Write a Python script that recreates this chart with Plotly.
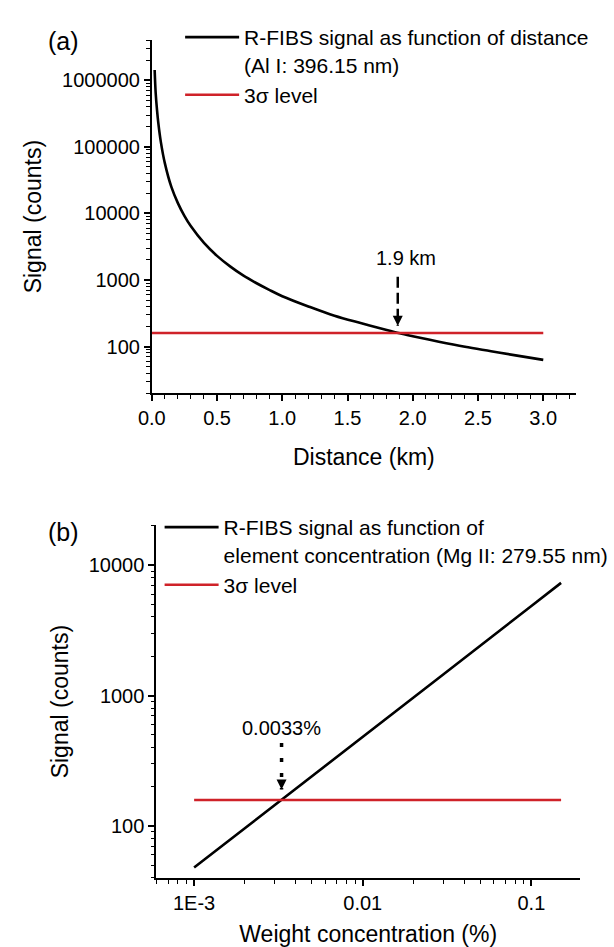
import math
import plotly.graph_objects as go

# ---- data ----
# (a) signal vs distance, Al I 396.15 nm
dist_km = [0.022, 0.03, 0.04, 0.05, 0.07, 0.1, 0.15, 0.2, 0.25, 0.3, 0.4, 0.5,
           0.6, 0.7, 0.8, 0.9, 1.0, 1.2, 1.4, 1.6, 1.8, 1.9, 2.0, 2.2, 2.4,
           2.6, 2.8, 3.0]
dist_signal = [1430000, 640000, 360000, 230000, 117000, 57000, 25000, 14300,
               9200, 6400, 3600, 2300, 1600, 1170, 900, 710, 570, 400, 290,
               225, 177, 158, 143, 118, 99, 85, 73, 63]
dist_sigma_x = [0.0, 3.0]
dist_sigma_y = [160, 160]
dist_cross = 1.885          # where the curve meets the 3 sigma level
dist_arrow_y = [1120, 205]

# (b) signal vs weight concentration, Mg II 279.55 nm
conc_pct = [0.001, 0.0033, 0.01, 0.03, 0.1, 0.15]
conc_signal = [48, 158, 480, 1450, 4850, 7300]
conc_sigma_x = [0.001, 0.15]
conc_sigma_y = [158, 158]
conc_cross = 0.0033
conc_arrow_y = [433, 190]

BLACK = '#000000'
RED = '#cf2229'
FONT = 'Liberation Sans, Arial, Helvetica, sans-serif'
W, H = 614, 947


def px_x(p):
    return p / W


def px_y(p):
    return 1 - p / H


fig = go.Figure()

# ---- panel (a) ----
fig.add_trace(go.Scatter(
    x=dist_km, y=dist_signal, mode='lines', line=dict(color=BLACK, width=2.6, shape='spline'),
    name='R-FIBS signal as function of distance<br>(Al I: 396.15 nm)',
    xaxis='x', yaxis='y', legend='legend'))
fig.add_trace(go.Scatter(
    x=dist_sigma_x, y=dist_sigma_y, mode='lines', line=dict(color=RED, width=2.6),
    name='3σ level', xaxis='x', yaxis='y', legend='legend'))
fig.add_trace(go.Scatter(
    x=[dist_cross, dist_cross], y=dist_arrow_y, mode='lines',
    line=dict(color=BLACK, width=2.5, dash='11px,5px'),
    showlegend=False, xaxis='x', yaxis='y', hoverinfo='skip'))

# ---- panel (b) ----
fig.add_trace(go.Scatter(
    x=conc_pct, y=conc_signal, mode='lines', line=dict(color=BLACK, width=2.6),
    name='R-FIBS signal as function of<br>element concentration (Mg II: 279.55 nm)',
    xaxis='x2', yaxis='y2', legend='legend2'))
fig.add_trace(go.Scatter(
    x=conc_sigma_x, y=conc_sigma_y, mode='lines', line=dict(color=RED, width=2.6),
    name='3σ level', xaxis='x2', yaxis='y2', legend='legend2'))
fig.add_trace(go.Scatter(
    x=[conc_cross, conc_cross], y=conc_arrow_y, mode='lines',
    line=dict(color=BLACK, width=3.5, dash='4px,11px'),
    showlegend=False, xaxis='x2', yaxis='y2', hoverinfo='skip'))

axis_common = dict(
    showline=True, linecolor=BLACK, linewidth=1.6, showgrid=False, zeroline=False,
    ticks='outside', ticklen=6, tickwidth=1.5, tickcolor=BLACK,
    tickfont=dict(size=20, color=BLACK, family=FONT),
    title_font=dict(size=23, color=BLACK, family=FONT),
)
minor_lin = dict(ticks='outside', ticklen=3.5, tickwidth=1.2, tickcolor=BLACK, showgrid=False)
minor_log = dict(ticks='outside', ticklen=3.5, tickwidth=1.2, tickcolor=BLACK, showgrid=False, dtick='D1')

fig.update_layout(
    width=W, height=H,
    margin=dict(l=0, r=0, t=0, b=0),
    paper_bgcolor='white', plot_bgcolor='white',
    font=dict(family=FONT, color=BLACK),
    xaxis=dict(axis_common, domain=[px_x(141), px_x(575)], range=[0, 3.25],
               tick0=0, dtick=0.5, tickformat='.1f', minor=minor_lin, anchor='y',
               title=dict(text='Distance (km)', standoff=21)),
    yaxis=dict(axis_common, domain=[px_y(393.3), px_y(40)], type='log', range=[1.297, 6.606],
               dtick=1, tickformat='d', minor=minor_log, anchor='x',
               title=dict(text='Signal (counts)', standoff=14)),
    xaxis2=dict(axis_common, domain=[px_x(145.5), px_x(579.5)], type='log', range=[-3.225, -0.71],
                tickvals=[0.001, 0.01, 0.1], ticktext=['1E-3', '0.01', '0.1'],
                minor=minor_log, anchor='y2',
                title=dict(text='Weight concentration (%)', standoff=15)),
    yaxis2=dict(axis_common, domain=[px_y(878.3), px_y(525)], type='log', range=[1.599, 4.307],
                dtick=1, tickformat='d', minor=minor_log, anchor='x2',
                title=dict(text='Signal (counts)', standoff=14)),
    legend=dict(x=px_x(170), y=px_y(17), xanchor='left', yanchor='top',
                bgcolor='rgba(0,0,0,0)', borderwidth=0, valign='top', itemwidth=54,
                font=dict(size=21, color=BLACK, family=FONT), tracegroupgap=0),
    legend2=dict(x=px_x(149), y=px_y(507), xanchor='left', yanchor='top',
                 bgcolor='rgba(0,0,0,0)', borderwidth=0, valign='top', itemwidth=54,
                 font=dict(size=21, color=BLACK, family=FONT), tracegroupgap=0),
    showlegend=True,
)

annotations = [
    dict(text='(a)', x=px_x(33), y=px_y(25), xref='paper', yref='paper',
         showarrow=False, font=dict(size=25, family=FONT, color=BLACK)),
    dict(text='(b)', x=px_x(33), y=px_y(532), xref='paper', yref='paper',
         showarrow=False, font=dict(size=25, family=FONT, color=BLACK)),
    # labels over the arrows (log axes take log10 positions)
    dict(text='1.9 km', x=dist_cross + 0.06, y=math.log10(dist_arrow_y[0]), xref='x', yref='y',
         yanchor='bottom', yshift=6, showarrow=False, font=dict(size=20, family=FONT, color=BLACK)),
    dict(text='0.0033%', x=math.log10(conc_cross), y=math.log10(conc_arrow_y[0]), xref='x2', yref='y2',
         yanchor='bottom', yshift=2, showarrow=False, font=dict(size=20, family=FONT, color=BLACK)),
    # arrow heads
    dict(text='', x=dist_cross, y=math.log10(dist_arrow_y[1]), xref='x', yref='y', ax=0, ay=-10,
         showarrow=True, arrowhead=2, arrowsize=1, arrowwidth=2, arrowcolor=BLACK),
    dict(text='', x=math.log10(conc_cross), y=math.log10(conc_arrow_y[1]), xref='x2', yref='y2',
         ax=0, ay=-10, showarrow=True, arrowhead=2, arrowsize=1, arrowwidth=2, arrowcolor=BLACK),
]
fig.update_layout(annotations=annotations)

fig.write_html('out.html', post_script="document.body.style.margin='0';",
               config={'displayModeBar': False})
